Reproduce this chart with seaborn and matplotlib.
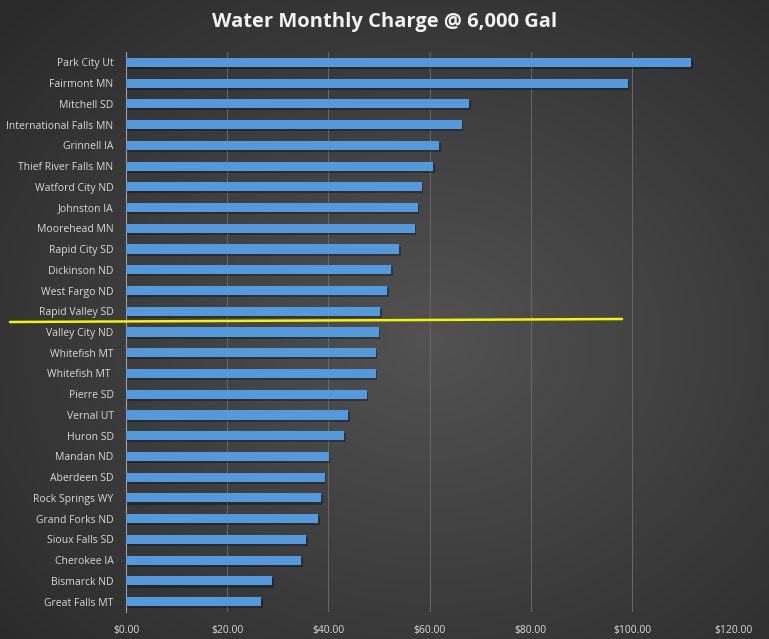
import numpy as np
import pandas as pd
import matplotlib
matplotlib.use("Agg")
import matplotlib.pyplot as plt
import matplotlib.patheffects as pe
from matplotlib.lines import Line2D
import seaborn as sns

cities = ["Park City Ut", "Fairmont MN", "Mitchell SD", "International Falls MN",
          "Grinnell IA", "Thief River Falls MN", "Watford City ND", "Johnston IA",
          "Moorehead MN", "Rapid City SD", "Dickinson ND", "West Fargo ND",
          "Rapid Valley SD", "Valley City ND", "Whitefish MT", "Whitefish MT ",
          "Pierre SD", "Vernal UT", "Huron SD", "Mandan ND", "Aberdeen SD",
          "Rock Springs WY", "Grand Forks ND", "Sioux Falls SD", "Cherokee IA",
          "Bismarck ND", "Great Falls MT"]
charges = [111.7, 99.2, 67.8, 66.4, 61.9, 60.7, 58.5, 57.7, 57.1, 54.0, 52.4,
           51.6, 50.2, 50.0, 49.4, 49.4, 47.6, 43.9, 43.1, 40.1, 39.3, 38.6,
           38.0, 35.6, 34.6, 28.9, 26.7]
x_ticks = [0, 20, 40, 60, 80, 100, 120]
x_tick_labels = ["$0.00", "$20.00", "$40.00", "$60.00", "$80.00", "$100.00", "$120.00"]
title = "Water Monthly Charge @ 6,000 Gal"

df = pd.DataFrame({"city": cities, "charge": charges})

sns.set_theme(style="dark")
plt.rcParams["font.family"] = ["Open Sans", "DejaVu Sans"]

W, H = 769, 639
fig = plt.figure(figsize=(W / 100, H / 100), dpi=100)

# radial gradient background
bg = fig.add_axes([0, 0, 1, 1], zorder=-10)
yy, xx = np.mgrid[0:H, 0:W]
r = np.sqrt(((xx - 430) / W) ** 2 + ((yy - 340) / H) ** 2)
r = np.clip(r / 0.75, 0, 1)
c_in, c_out = np.array([0x52, 0x52, 0x52]) / 255, np.array([0x2a, 0x2a, 0x2a]) / 255
img = c_in[None, None, :] * (1 - r[..., None]) + c_out[None, None, :] * r[..., None]
bg.imshow(img, aspect="auto", extent=[0, 1, 0, 1])
bg.axis("off")

ax = fig.add_axes([126.1 / W, 1 - 612 / H, (733.3 - 126.1) / W, 560 / H])
ax.set_facecolor("none")

sns.barplot(data=df, x="charge", y="city", orient="h", color="#5599dd",
            saturation=1, width=0.44, linewidth=0, ax=ax, zorder=3)
for p in ax.patches:
    p.set_edgecolor("none")
    p.set_linewidth(0)
    p.set_path_effects([pe.SimplePatchShadow(offset=(1, -1.5), shadow_rgbFace="black", alpha=0.3),
                        pe.Normal()])

ax.set_xlim(0, 120)
ax.set_ylim(len(cities) - 0.5, -0.5)
ax.set_xticks(x_ticks)
ax.set_xticklabels(x_tick_labels)
ax.set_xlabel("")
ax.set_ylabel("")
ax.tick_params(axis="both", length=0, colors="#d9d9d9", labelsize=7.5)
ax.tick_params(axis="x", pad=9)
ax.tick_params(axis="y", pad=9)
ax.grid(axis="x", color="#686868", linewidth=0.7, zorder=0)
ax.grid(axis="y", visible=False)
for s in ["top", "right", "bottom"]:
    ax.spines[s].set_visible(False)
ax.spines["left"].set_color("#a0a0a0")
ax.spines["left"].set_linewidth(0.8)

fig.text(0.5, 1 - 22 / H, title, ha="center", va="center", color="#f2f2f2",
         fontsize=14.5, fontweight="bold")

# hand-drawn yellow separator annotation
sep_x = [10 / W, 622 / W]
sep_y = [1 - 322 / H, 1 - 319 / H]
fig.add_artist(Line2D(sep_x, sep_y, color="#f5f500", linewidth=1.8, zorder=10))

fig.savefig("out.png", dpi=100)
